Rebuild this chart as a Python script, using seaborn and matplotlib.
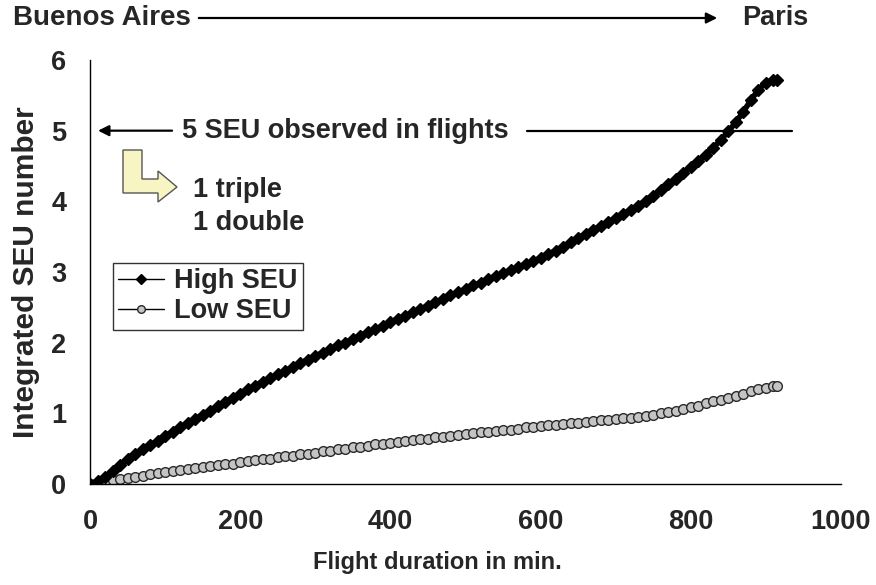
import numpy as np
import pandas as pd
import matplotlib
matplotlib.use("Agg")
import matplotlib.pyplot as plt
import matplotlib.patches as mpatches
from matplotlib.lines import Line2D
import seaborn as sns

# ---- data ----
minutes = [0, 10, 20, 30, 40, 50, 60, 70, 80, 90, 100, 110, 120, 130, 140, 150, 160, 170, 180, 190,
           200, 210, 220, 230, 240, 250, 260, 270, 280, 290, 300, 310, 320, 330, 340, 350, 360, 370, 380, 390,
           400, 410, 420, 430, 440, 450, 460, 470, 480, 490, 500, 510, 520, 530, 540, 550, 560, 570, 580, 590,
           600, 610, 620, 630, 640, 650, 660, 670, 680, 690, 700, 710, 720, 730, 740, 750, 760, 770, 780, 790,
           800, 810, 820, 830, 840, 850, 860, 870, 880, 890, 900, 910, 915]
high_seu = [0.00, 0.04, 0.10, 0.18, 0.27, 0.35, 0.42, 0.49, 0.55, 0.61, 0.68, 0.74, 0.80, 0.86, 0.92, 0.98, 1.04, 1.10, 1.16, 1.22,
            1.28, 1.34, 1.39, 1.45, 1.50, 1.55, 1.60, 1.65, 1.71, 1.76, 1.81, 1.86, 1.91, 1.96, 2.00, 2.05, 2.10, 2.15, 2.19, 2.24,
            2.29, 2.34, 2.38, 2.43, 2.48, 2.52, 2.57, 2.62, 2.67, 2.71, 2.76, 2.81, 2.85, 2.90, 2.94, 2.98, 3.03, 3.07, 3.11, 3.15,
            3.20, 3.25, 3.30, 3.36, 3.42, 3.48, 3.54, 3.59, 3.65, 3.71, 3.76, 3.82, 3.88, 3.94, 4.01, 4.08, 4.16, 4.24, 4.32, 4.40,
            4.48, 4.57, 4.66, 4.76, 4.87, 4.99, 5.12, 5.27, 5.43, 5.58, 5.68, 5.72, 5.72]
low_seu = [0.00, 0.02, 0.04, 0.05, 0.07, 0.09, 0.10, 0.12, 0.14, 0.15, 0.17, 0.19, 0.20, 0.21, 0.23, 0.24, 0.25, 0.27, 0.28, 0.29,
           0.31, 0.32, 0.34, 0.35, 0.36, 0.38, 0.39, 0.40, 0.42, 0.43, 0.44, 0.46, 0.47, 0.49, 0.50, 0.52, 0.53, 0.54, 0.56, 0.57,
           0.58, 0.59, 0.61, 0.62, 0.63, 0.64, 0.66, 0.67, 0.68, 0.70, 0.71, 0.72, 0.73, 0.74, 0.75, 0.76, 0.77, 0.78, 0.80, 0.81,
           0.82, 0.83, 0.84, 0.85, 0.86, 0.87, 0.88, 0.89, 0.90, 0.91, 0.92, 0.93, 0.94, 0.95, 0.96, 0.98, 1.00, 1.02, 1.04, 1.06,
           1.09, 1.11, 1.14, 1.17, 1.19, 1.22, 1.25, 1.28, 1.31, 1.34, 1.36, 1.38, 1.39]
series_names = ["High SEU", "Low SEU"]
x_ticks = [0, 200, 400, 600, 800, 1000]
y_ticks = [0, 1, 2, 3, 4, 5, 6]
observed_seu = 5
route_start, route_end = "Buenos Aires", "Paris"

# ---- style ----
sns.set_style("white")
plt.rcParams["font.family"] = ["Liberation Sans", "DejaVu Sans"]
plt.rcParams["font.weight"] = "bold"

W, H = 876, 585
fig = plt.figure(figsize=(W / 100, H / 100), dpi=100)
ax = fig.add_axes([90 / W, 1 - 484 / H, (841 - 90) / W, (484 - 60) / H])

df = pd.DataFrame({"minutes": minutes, "high": high_seu, "low": low_seu})
sns.lineplot(data=df, x="minutes", y="high", ax=ax, color="black", lw=4.0,
             marker="D", markersize=6.5, markerfacecolor="black", markeredgecolor="black",
             markeredgewidth=1.0, zorder=3)
sns.lineplot(data=df, x="minutes", y="low", ax=ax, color="#333333", lw=1.0,
             marker="o", markersize=7, markerfacecolor="#c4c4c4", markeredgecolor="#2a2a2a",
             markeredgewidth=1.0, zorder=2)

ax.set_xlim(0, 1000)
ax.set_ylim(0, 6)
ax.set_xticks(x_ticks)
ax.set_yticks(y_ticks)
ax.set_xticklabels([str(t) for t in x_ticks], fontsize=19.5, fontweight="bold")
ax.set_yticklabels([str(t) for t in y_ticks], fontsize=19.5, fontweight="bold")
ax.tick_params(axis="both", direction="out", length=7, width=1, color="black", pad=10)
ax.tick_params(axis="x", pad=11)
for s in ["top", "right"]:
    ax.spines[s].set_visible(False)
for s in ["left", "bottom"]:
    ax.spines[s].set_color("black")
    ax.spines[s].set_linewidth(1.0)
ax.set_xlabel("Flight duration in min.", fontsize=17, fontweight="bold", labelpad=12)
ax.xaxis.set_label_coords((437 - 90) / 751, -(563 - 484) / 424)
ax.xaxis.label.set_va("center")
ax.set_ylabel("Integrated SEU number", fontsize=21.5, fontweight="bold", labelpad=8)

# legend
handles = [
    Line2D([], [], color="black", lw=1, marker="D", markersize=5, markerfacecolor="black"),
    Line2D([], [], color="black", lw=1, marker="o", markersize=5.5, markerfacecolor="#c4c4c4",
           markeredgecolor="#2a2a2a"),
]
leg = ax.legend(handles, series_names, loc="upper left", bbox_to_anchor=((113 - 90) / 751, (484 - 263) / 424),
                frameon=True, fancybox=False, edgecolor="#333333", framealpha=1,
                prop={"family": "Liberation Sans", "weight": "bold", "size": 19.5},
                handlelength=1.7, handletextpad=0.35, borderpad=0.2, labelspacing=0.15, borderaxespad=0)
leg.get_frame().set_linewidth(1.0)

# 5 SEU annotation
ax.annotate("", xy=(7, observed_seu), xytext=(113, observed_seu), xycoords="data",
            arrowprops=dict(arrowstyle="-|>", color="black", lw=1.6, mutation_scale=16))
ax.text(122, observed_seu, f"{observed_seu} SEU observed in flights", fontsize=19.5, fontweight="bold",
        va="center", ha="left")
ax.plot([582, 935], [observed_seu, observed_seu], color="black", lw=1.6, clip_on=False)

# route arrow at top
yy = 1 - 18 / H
fig.text(13 / W, yy, route_start, fontsize=20, fontweight="bold", va="center", ha="left")
fig.text(742 / W, yy, route_end, fontsize=19.5, fontweight="bold", va="center", ha="left")
ax.annotate("", xy=(720 / W, yy), xytext=(196 / W, yy), xycoords="figure fraction",
            arrowprops=dict(arrowstyle="-|>", color="black", lw=1.6, mutation_scale=16))

# yellow L-shaped arrow
pts = [(123, 150), (142, 150), (142, 179), (158, 179), (158, 171), (177, 187), (158, 202), (158, 193), (123, 193)]
poly = mpatches.Polygon([(x / W, 1 - y / H) for x, y in pts], closed=True, transform=fig.transFigure,
                        facecolor="#f7f5c4", edgecolor="#555555", lw=1.0)
fig.patches.append(poly)
fig.text(193 / W, 1 - 190 / H, "1 triple", fontsize=19.5, fontweight="bold", va="center", ha="left")
fig.text(193 / W, 1 - 223 / H, "1 double", fontsize=19.5, fontweight="bold", va="center", ha="left")

fig.savefig("out.png", dpi=100)
